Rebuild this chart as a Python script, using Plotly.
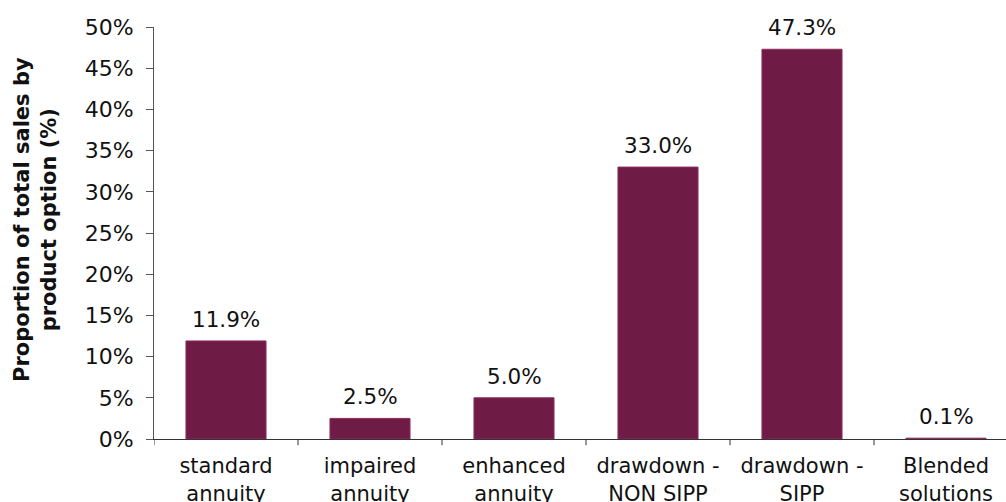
import plotly.graph_objects as go

categories = [
    "standard<br>annuity",
    "impaired<br>annuity",
    "enhanced<br>annuity",
    "drawdown -<br>NON SIPP",
    "drawdown -<br>SIPP",
    "Blended<br>solutions",
]
share_pct = [11.9, 2.5, 5.0, 33.0, 47.3, 0.1]
y_ticks = [0, 5, 10, 15, 20, 25, 30, 35, 40, 45, 50]
y_tick_text = [f"{v}%" for v in y_ticks]
y_title = "<b>Proportion of total sales by<br>product option (%)</b>"

BAR = "#6E1C45"
FONT = "DejaVu Sans, Verdana, sans-serif"

fig = go.Figure(
    go.Bar(
        x=list(range(len(categories))),
        y=share_pct,
        marker=dict(color=BAR, line=dict(color="#8E2D5A", width=1)),
        width=0.556,
        hoverinfo="skip",
    )
)

for i, v in enumerate(share_pct):
    fig.add_annotation(
        x=i, y=v, text=f"{v:.1f}%", showarrow=False,
        yanchor="bottom", yshift=7,
        font=dict(family=FONT, size=21.5, color="#111111"),
    )

# rotated y-axis title
fig.add_annotation(
    xref="paper", yref="paper", x=-0.1385, y=0.534,
    xanchor="center", yanchor="middle",
    text=y_title, textangle=-90, showarrow=False,
    font=dict(family=FONT, size=21, color="#111111"),
)

fig.update_layout(
    width=1006, height=502,
    margin=dict(l=154, r=0, t=27, b=63),
    paper_bgcolor="white", plot_bgcolor="white",
    showlegend=False,
    font=dict(family=FONT, size=21, color="#111111"),
)

fig.update_xaxes(
    range=[-0.5, 5.4167],
    tickvals=list(range(len(categories))),
    ticktext=categories,
    showgrid=False, zeroline=False,
    showline=True, linecolor="#333333", linewidth=1,
    ticks="", ticklabelstandoff=8, automargin=False,
    tickfont=dict(family=FONT, size=21, color="#111111"),
)
# tick marks on category boundaries
for b in [-0.5, 0.5, 1.5, 2.5, 3.5, 4.5]:
    fig.add_shape(type="line", xref="x", yref="paper", x0=b, x1=b, y0=0, y1=-0.015,
                  line=dict(color="#333333", width=1))

fig.update_yaxes(
    range=[0, 50],
    tickvals=y_ticks, ticktext=y_tick_text,
    showgrid=False, zeroline=False,
    showline=True, linecolor="#555555", linewidth=1,
    ticks="outside", ticklen=7, tickcolor="#555555",
    ticklabelstandoff=8, automargin=False,
    tickfont=dict(family=FONT, size=22, color="#111111"),
)

fig.write_html("out.html")
